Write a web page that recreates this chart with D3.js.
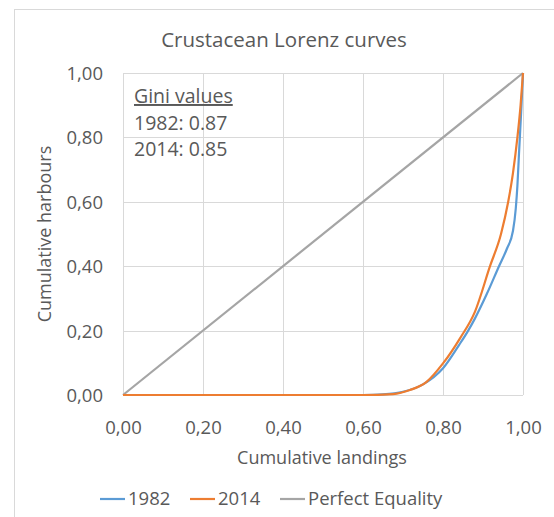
<!DOCTYPE html>
<html>
<head>
<meta charset="utf-8">
<script src="https://cdn.jsdelivr.net/npm/d3@7"></script>
<style>
  body { margin: 0; background: #fff; }
  text { font-family: "Open Sans", sans-serif; fill: #595959; }
</style>
</head>
<body>
<svg id="chart" width="554" height="517"></svg>
<script>
// values
const landings1982 = [0, 0.3, 0.6, 0.65, 0.7, 0.75, 0.8, 0.84, 0.863, 0.88, 0.91, 0.94, 0.96, 0.975, 0.982, 0.986, 0.99, 0.995, 1];
const harbours1982 = [0, 0, 0, 0.002, 0.01, 0.033, 0.083, 0.155, 0.2, 0.238, 0.315, 0.4, 0.455, 0.51, 0.58, 0.65, 0.75, 0.87, 1];
const landings2014 = [0, 0.3, 0.6, 0.675, 0.7175, 0.759, 0.8, 0.8425, 0.88, 0.9175, 0.945, 0.963, 0.975, 0.986, 0.994, 1];
const harbours2014 = [0, 0, 0, 0.003, 0.0155, 0.041, 0.098, 0.176, 0.259, 0.4, 0.5, 0.6, 0.69, 0.8, 0.9, 1];
const equality = [0, 1];
const ticks = [0, 0.2, 0.4, 0.6, 0.8, 1];
const gini = ["1982: 0.87", "2014: 0.85"];

const svg = d3.select("#chart");
const margin = {left: 123, top: 73, width: 400, height: 322};

const x = d3.scaleLinear().domain([0, 1]).range([margin.left, margin.left + margin.width]);
const y = d3.scaleLinear().domain([0, 1]).range([margin.top + margin.height, margin.top]);
const fmt = d => d3.format(".2f")(d).replace(".", ",");

// chart border
svg.append("rect")
    .attr("x", 14.5).attr("y", 9.5)
    .attr("width", 560).attr("height", 530)
    .attr("fill", "none").attr("stroke", "#d9d9d9");

svg.append("text")
    .attr("x", 284).attr("y", 47)
    .attr("text-anchor", "middle")
    .attr("font-size", 20.5)
    .text("Crustacean Lorenz curves");

// grid
const grid = svg.append("g").attr("stroke", "#d9d9d9").attr("stroke-width", 1);
grid.selectAll("line.v").data(ticks).enter().append("line")
    .attr("x1", d => Math.round(x(d)) + 0.5).attr("x2", d => Math.round(x(d)) + 0.5)
    .attr("y1", y(0)).attr("y2", y(1));
grid.selectAll("line.h").data(ticks).enter().append("line")
    .attr("y1", d => Math.round(y(d)) + 0.5).attr("y2", d => Math.round(y(d)) + 0.5)
    .attr("x1", x(0)).attr("x2", x(1));

// axes
const xAxis = svg.append("g")
    .attr("transform", `translate(0,${y(0)})`)
    .call(d3.axisBottom(x).tickValues(ticks).tickFormat(fmt).tickSize(0));
const yAxis = svg.append("g")
    .attr("transform", `translate(${x(0) - 20},0)`)
    .call(d3.axisLeft(y).tickValues(ticks).tickFormat(fmt).tickSize(0));
[xAxis, yAxis].forEach(a => {
    a.select(".domain").remove();
    a.selectAll("text").attr("font-size", 18.5).attr("font-family", "Open Sans").attr("fill", "#595959");
});
yAxis.selectAll("text").attr("dy", "0.35em").attr("x", 0);
xAxis.selectAll("text").attr("y", 39).attr("dy", 0);

svg.append("text")
    .attr("x", x(0.5) - 1).attr("y", 464)
    .attr("text-anchor", "middle").attr("font-size", 18)
    .text("Cumulative landings");
svg.append("text")
    .attr("transform", `translate(51,${y(0.5)}) rotate(-90)`)
    .attr("text-anchor", "middle").attr("font-size", 18)
    .text("Cumulative harbours");

// lines
const line = d3.line().x(d => x(d[0])).y(d => y(d[1])).curve(d3.curveMonotoneX);
const series = [
    {name: "1982", color: "#5b9bd5", pts: d3.zip(landings1982, harbours1982)},
    {name: "2014", color: "#ed7d31", pts: d3.zip(landings2014, harbours2014)},
    {name: "Perfect Equality", color: "#a5a5a5", pts: d3.zip(equality, equality)}
];
svg.append("g").selectAll("path")
    .data([series[2], series[0], series[1]])
    .enter().append("path")
    .attr("fill", "none")
    .attr("stroke", d => d.color)
    .attr("stroke-width", 2.2)
    .attr("stroke-linejoin", "round")
    .attr("d", d => line(d.pts));

// gini annotation
svg.append("text")
    .attr("x", 134).attr("y", 103)
    .attr("font-size", 19.5)
    .attr("text-decoration", "underline")
    .text("Gini values");
svg.selectAll("text.gini").data(gini).enter().append("text")
    .attr("x", 134).attr("y", (d, i) => 130 + i * 26)
    .attr("font-size", 19.5)
    .text(d => d);

// legend
const legendX = [100, 190, 280];
const leg = svg.append("g").selectAll("g")
    .data(series).enter().append("g")
    .attr("transform", (d, i) => `translate(${legendX[i]},499)`);
leg.append("line")
    .attr("x1", 0).attr("x2", 25)
    .attr("stroke", d => d.color).attr("stroke-width", 2.2);
leg.append("text")
    .attr("x", 28).attr("dy", "0.35em")
    .attr("font-size", 18.5)
    .text(d => d.name);
</script>
</body>
</html>
